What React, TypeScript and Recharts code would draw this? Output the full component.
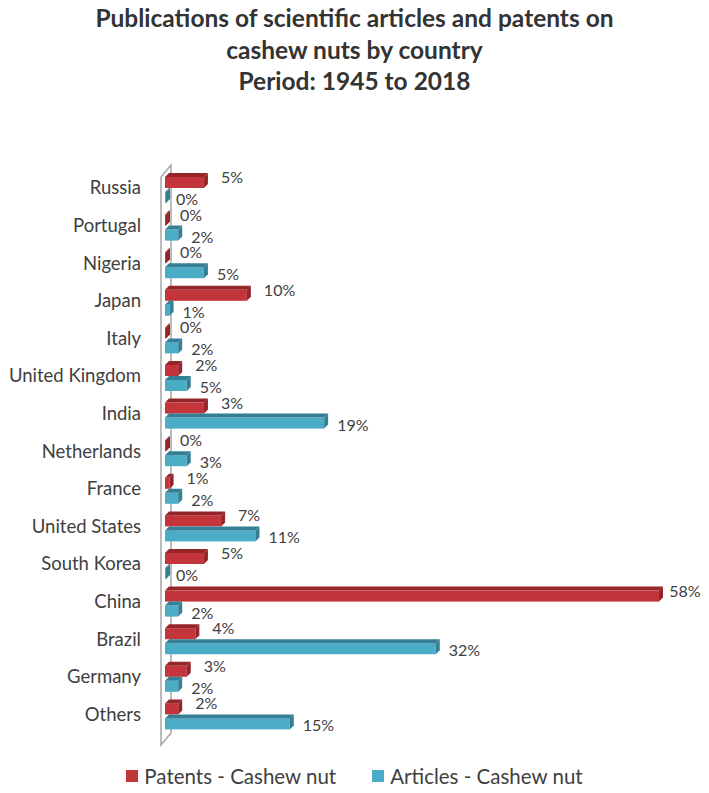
import React from "react";
import { BarChart, Bar, XAxis, YAxis, Legend, LabelList } from "recharts";

const countries = [
  "Russia", "Portugal", "Nigeria", "Japan", "Italy", "United Kingdom", "India",
  "Netherlands", "France", "United States", "South Korea", "China", "Brazil", "Germany", "Others",
];
const patents = [5, 0, 0, 10, 0, 2, 5, 0, 1, 7, 5, 58, 4, 3, 2];
const articles = [0, 2, 5, 1, 2, 3, 19, 3, 2, 11, 0, 2, 32, 2, 15];
const patentLabels = ["5%", "0%", "0%", "10%", "0%", "2%", "3%", "0%", "1%", "7%", "5%", "58%", "4%", "3%", "2%"];
const articleLabels = ["0%", "2%", "5%", "1%", "2%", "5%", "19%", "3%", "2%", "11%", "0%", "2%", "32%", "2%", "15%"];
const titleLines = [
  "Publications of scientific articles and patents on",
  "cashew nuts by country",
  "Period: 1945 to 2018",
];
const seriesNames = ["Patents - Cashew nut", "Articles - Cashew nut"];

const data = countries.map((c, i) => ({
  country: c,
  patents: patents[i],
  articles: articles[i],
  pLabel: patentLabels[i],
  aLabel: articleLabels[i],
}));

const W = 693;
const H = 777;
const M = { top: 161, right: 38, bottom: 52, left: 0 };
const YW = 157;
const FONT = "Lato, 'Open Sans', sans-serif";
const RED = "#C4343B";
const RED_D = "#962529";
const BLUE = "#4BACC6";
const BLUE_D = "#347F95";
const TEXT = "#404040";
const DEPTH = 4;
const LABEL_SIZE = 16;

const make3D = (front: string, dark: string) => (props: any) => {
  const { x, y, width, height } = props;
  if (width == null || height == null) return null;
  const d = DEPTH;
  const w = Math.max(width, 2);
  const fx = x;
  const fy = y + d;
  const fw = Math.max(w - d, 1);
  const fh = height - d;
  return (
    <g>
      <rect x={fx} y={fy} width={fw} height={fh} fill={front} />
      <polygon
        points={`${fx},${fy} ${fx + d},${y} ${fx + fw + d},${y} ${fx + fw},${fy}`}
        fill={dark}
      />
      <polygon
        points={`${fx + fw},${fy} ${fx + fw + d},${y} ${fx + fw + d},${y + fh} ${fx + fw},${fy + fh}`}
        fill={dark}
      />
    </g>
  );
};

const makeLabel = (dx: number, dy: number) => (props: any) => {
  const { x, y, width, height, value } = props;
  const textW = String(value).length * LABEL_SIZE * 0.62;
  const lx = Math.min(x + Math.max(width, 2) + dx, W - 2 - textW);
  return (
    <text
      x={lx}
      y={y + height / 2 + dy}
      fill={TEXT}
      fontSize={LABEL_SIZE}
      fontFamily={FONT}
      dominantBaseline="central"
    >
      {value}
    </text>
  );
};

const LegendContent = () => (
  <div
    style={{
      display: "flex",
      justifyContent: "center",
      gap: 36,
      fontFamily: FONT,
      fontSize: 20.5,
      lineHeight: "22px",
      color: TEXT,
      width: W,
    }}
  >
    {[RED, BLUE].map((c, i) => (
      <div key={i} style={{ display: "flex", alignItems: "center" }}>
        <span style={{ width: 12, height: 12, background: c, display: "inline-block", marginRight: 6 }} />
        <span>{seriesNames[i]}</span>
      </div>
    ))}
  </div>
);

export default function App() {
  const plotLeft = M.left + YW;
  const plotTop = M.top;
  const plotBottom = H - M.bottom;
  return (
    <div style={{ width: W, height: H, position: "relative" }}>
      <BarChart
        width={W}
        height={H}
        data={data}
        layout="vertical"
        margin={M}
        barGap={0}
        barCategoryGap={4}
      >
        <g>
          {titleLines.map((t, i) => (
            <text
              key={i}
              x={W / 2}
              y={19 + i * 31.5}
              textAnchor="middle"
              fontFamily={FONT}
              fontWeight={700}
              fontSize={24.5}
              fill="#333333"
            >
              {t}
            </text>
          ))}
          <polygon
            points={`${plotLeft - 4},${plotTop + 8} ${plotLeft + 6},${plotTop - 4} ${plotLeft + 6},${plotBottom} ${plotLeft - 4},${plotBottom + 12}`}
            fill="none"
            stroke="#A6A6A6"
            strokeWidth={1.5}
          />
        </g>
        <XAxis type="number" domain={[0, 58]} hide />
        <YAxis
          type="category"
          dataKey="country"
          width={YW}
          axisLine={false}
          tickLine={false}
          tickSize={0}
          tickMargin={24}
          tick={{ fill: TEXT, fontSize: 18.5, fontFamily: FONT }}
          interval={0}
        />
        <Legend
          layout="horizontal"
          verticalAlign="middle"
          align="center"
          content={<LegendContent />}
          wrapperStyle={{ top: 757, left: 0, width: W }}
        />
        <Bar
          dataKey="patents"
          name={seriesNames[0]}
          fill={RED}
          barSize={15}
          shape={make3D(RED, RED_D)}
          isAnimationActive={false}
        >
          <LabelList dataKey="pLabel" content={makeLabel(13, -4)} />
        </Bar>
        <Bar
          dataKey="articles"
          name={seriesNames[1]}
          fill={BLUE}
          barSize={15}
          shape={make3D(BLUE, BLUE_D)}
          isAnimationActive={false}
        >
          <LabelList dataKey="aLabel" content={makeLabel(9, 3)} />
        </Bar>
      </BarChart>
    </div>
  );
}
